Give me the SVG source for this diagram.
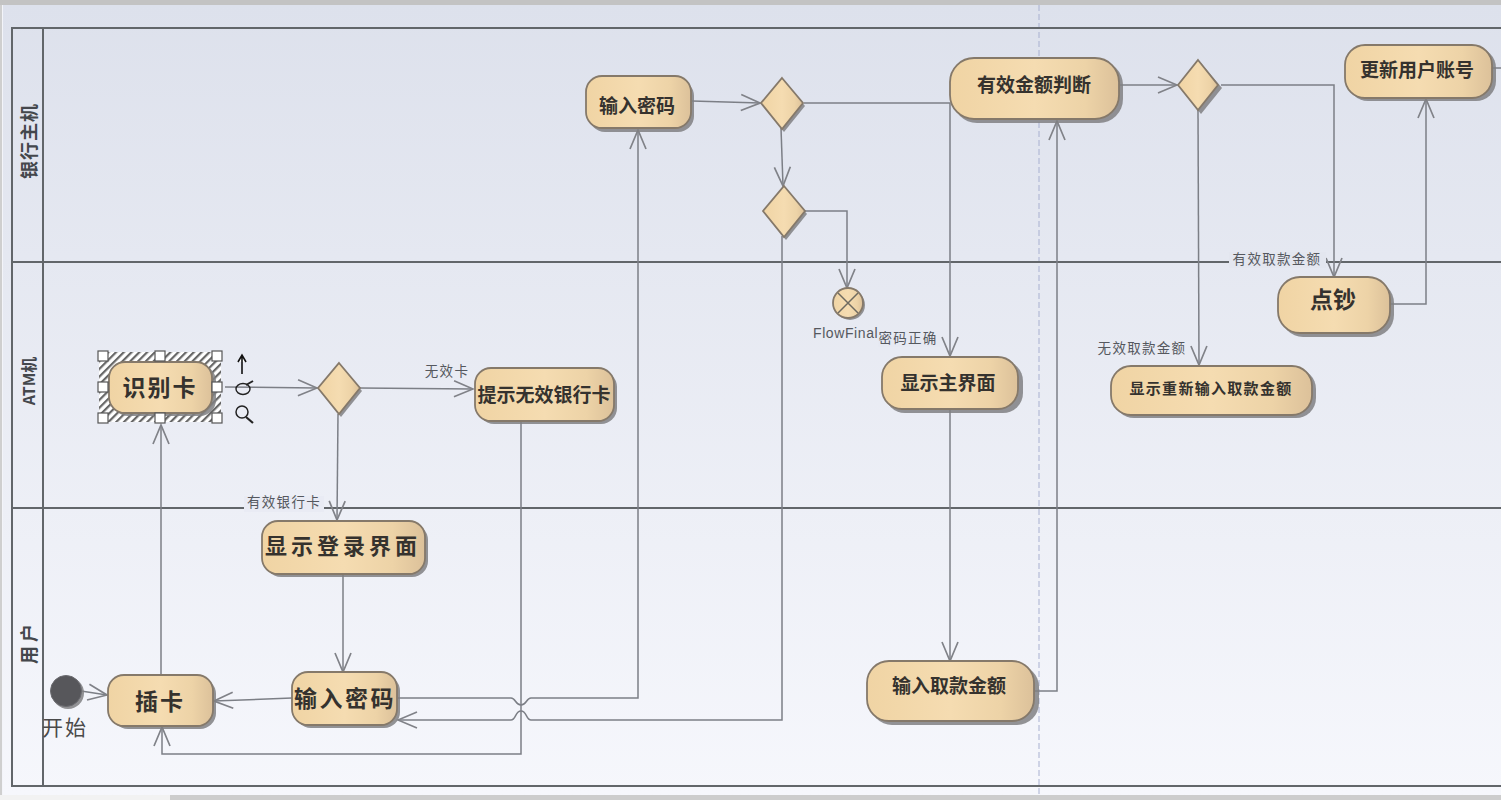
<svg xmlns="http://www.w3.org/2000/svg" width="1501" height="800" viewBox="0 0 1501 800">
<defs>
<linearGradient id="bg" x1="0" y1="0" x2="0" y2="1"><stop offset="0" stop-color="#dde1ec"/><stop offset="1" stop-color="#f6f7fc"/></linearGradient>
<linearGradient id="nf" x1="0" y1="0" x2="1" y2="0"><stop offset="0" stop-color="#f0d4a4"/><stop offset="0.5" stop-color="#f5dcb1"/><stop offset="0.8" stop-color="#edd3a7"/><stop offset="1" stop-color="#dcc19a"/></linearGradient>
<pattern id="hatch" width="5.5" height="5.5" patternUnits="userSpaceOnUse" patternTransform="rotate(-45)"><rect width="5.5" height="5.5" fill="#fff"/><rect width="5.5" height="2.2" fill="#666"/></pattern>
<marker id="arr" viewBox="-21 -10 23 20" refX="0" refY="0" markerWidth="23" markerHeight="20" markerUnits="userSpaceOnUse" orient="auto"><path d="M-19 -8 L0 0 L-19 8" fill="none" stroke="#808288" stroke-width="1.7"/></marker>
</defs>
<style>
.lane{fill:none;stroke:#62666a;stroke-width:2}
.c{fill:none;stroke:#7c7f86;stroke-width:1.5}
.a{marker-end:url(#arr)}
.n{fill:url(#nf);stroke:#85796a;stroke-width:1.8}
.s{fill:#808082;opacity:.85}
text{font-family:"Noto Sans CJK SC","Liberation Sans",sans-serif;text-anchor:middle}
.t{font-weight:700;fill:#35322e}
.l{font-size:13.5px;fill:#55585e;letter-spacing:1.3px}
.lt{font-size:18px;font-weight:700;fill:#44474c;letter-spacing:1px}
.h{fill:#fff;stroke:#555;stroke-width:1.2}
</style>
<rect width="1501" height="800" fill="#f3f4f9"/>
<rect x="3" y="5" width="1498" height="790" fill="url(#bg)"/>
<rect width="1501" height="5" fill="#c3c3c3"/>
<rect y="795" width="1501" height="5" fill="#f2f2f2"/>
<rect x="170" y="795" width="1331" height="5" fill="#cdcdcd"/>
<rect x="0" y="5" width="2" height="790" fill="#cfcfcf"/>
<line x1="1039" y1="5" x2="1039" y2="795" stroke="#a8b0d0" stroke-width="1" stroke-dasharray="6 3"/>
<g id="lanes">
<path class="lane" d="M1501 28H12V786H1501M43 28V786M12 262H1501M12 508H1501"/>
<text class="lt" transform="translate(36 141) rotate(-90)">银行主机</text>
<text class="lt" style="font-size:16px;letter-spacing:0" transform="translate(35 381) rotate(-90)">ATM机</text>
<text class="lt" style="letter-spacing:4px" transform="translate(36 642) rotate(-90)">用户</text>
</g>
<g id="connectors">
<path class="c a" d="M81 691L107 695"/>
<path class="c a" d="M161 675V425"/>
<path class="c a" d="M225 387L317 388"/>
<path class="c a" d="M360 388L473 389"/>
<path class="c a" d="M338 414L337 520"/>
<path class="c a" d="M343 574V672"/>
<path class="c a" d="M292 698L214 701"/>
<path class="c a" d="M398 698H511C516 698 515 705 521 705C527 705 526 698 531 698H638V130"/>
<path class="c a" d="M782 236V720H531C526 720 527 711 521 711C515 711 516 720 511 720H398"/>
<path class="c a" d="M521 420V754H162V727"/>
<path class="c a" d="M692 101L760 103"/>
<path class="c a" d="M781 128L783 186"/>
<path class="c a" d="M804 211H847V288"/>
<path class="c a" d="M804 103H950V356"/>
<path class="c a" d="M950 409V661"/>
<path class="c a" d="M1034 691H1057V121"/>
<path class="c a" d="M1120 85L1177 85"/>
<path class="c a" d="M1221 85H1334V277"/>
<path class="c a" d="M1198 110L1199 365"/>
<path class="c a" d="M1390 304H1426V99"/>
<path class="c" d="M1492 68H1501"/>
</g>
<g id="labels">
<rect x="244" y="496" width="80" height="16" fill="#e9ebf4"/>
<text class="l" x="284" y="507">有效银行卡</text>
<text class="l" x="447" y="376">无效卡</text>
<rect x="1229" y="252" width="97" height="16" fill="#e3e6ef"/>
<text class="l" x="1277" y="264">有效取款金额</text>
<text class="l" x="1142" y="353">无效取款金额</text>
<text x="813" y="338" style="font-family:'Liberation Sans',sans-serif;font-size:14px;fill:#55585e;text-anchor:start;letter-spacing:.6px">FlowFinal</text>
<rect x="878" y="331" width="62" height="16" fill="#e6e9f2"/>
<text class="l" x="908" y="343">密码正确</text>
</g>
<g id="start"><circle class="s" cx="68" cy="693" r="16"/><circle cx="66" cy="691" r="15.5" fill="#57575b" stroke="#6b6b70"/><text x="65" y="735" font-size="21" fill="#4a4a4a" style="letter-spacing:2px">开始</text></g>
<g id="n-identify">
<rect x="99" y="352" width="122" height="70" fill="url(#hatch)"/>
<rect class="s" x="112" y="365" width="104" height="51" rx="16"/>
<rect class="n" x="109" y="362" width="103" height="51" rx="16"/>
<text class="t" x="160" y="396" font-size="23" style="letter-spacing:2px">识别卡</text>
<rect class="h" x="98" y="351" width="10" height="10"/><rect class="h" x="155" y="351" width="10" height="10"/><rect class="h" x="212" y="351" width="10" height="10"/>
<rect class="h" x="98" y="382" width="10" height="10"/><rect class="h" x="212" y="382" width="10" height="10"/>
<rect class="h" x="98" y="413" width="10" height="10"/><rect class="h" x="155" y="413" width="10" height="10"/><rect class="h" x="212" y="413" width="10" height="10"/>
<path d="M242 374V356M238 362L242 355L246 362" fill="#fff" stroke="#111" stroke-width="1.6"/>
<ellipse cx="243" cy="389" rx="7" ry="5.5" fill="none" stroke="#222" stroke-width="1.4"/><path d="M246 385L253 381" stroke="#222" stroke-width="2"/>
<circle cx="242" cy="412" r="6" fill="none" stroke="#222" stroke-width="1.5"/><path d="M246 417L253 423" stroke="#222" stroke-width="2.2"/>
</g>
<g id="d1"><path class="s" d="M341 366L362 391L341 417L320 391Z"/><path class="n" d="M339 363L360 388L339 414L318 388Z"/></g>
<g id="n-invalid"><rect class="s" x="478" y="371" width="139" height="53" rx="16"/><rect class="n" x="475" y="368" width="139" height="53" rx="16"/><text class="t" x="544" y="402" font-size="19">提示无效银行卡</text></g>
<g id="n-login"><rect class="s" x="265" y="524" width="163" height="53" rx="16"/><rect class="n" x="262" y="521" width="163" height="53" rx="16"/><text class="t" x="343" y="554" font-size="22" style="letter-spacing:4px">显示登录界面</text></g>
<g id="n-insert"><rect class="s" x="112" y="678" width="104" height="51" rx="16"/><rect class="n" x="108" y="675" width="105" height="51" rx="16"/><text class="t" x="160" y="710" font-size="23" style="letter-spacing:2px">插卡</text></g>
<g id="n-pin-u"><rect class="s" x="295" y="675" width="105" height="53" rx="16"/><rect class="n" x="292" y="672" width="105" height="53" rx="16"/><text class="t" x="345" y="707" font-size="23" style="letter-spacing:2.5px">输入密码</text></g>
<g id="n-pin-b"><rect class="s" x="589" y="80" width="105" height="52" rx="16"/><rect class="n" x="586" y="76" width="105" height="52" rx="16"/><text class="t" x="637" y="113" font-size="19">输入密码</text></g>
<g id="d2"><path class="s" d="M784 81L805 106L784 132L763 106Z"/><path class="n" d="M782 78L803 103L782 129L761 103Z"/></g>
<g id="d3"><path class="s" d="M786 189L807 214L786 240L765 214Z"/><path class="n" d="M784 186L805 211L784 237L763 211Z"/></g>
<g id="n-final"><circle class="s" cx="850" cy="305" r="15"/><circle class="n" cx="848" cy="303" r="15"/><path d="M838 293L858 313M858 293L838 313" stroke="#6e6a60" stroke-width="1.5"/></g>
<g id="n-check"><rect class="s" x="953" y="61" width="170" height="62" rx="24"/><rect class="n" x="950" y="58" width="169" height="61" rx="24"/><text class="t" x="1034" y="92" font-size="19">有效金额判断</text></g>
<g id="d4"><path class="s" d="M1201 63L1222 88L1201 114L1180 88Z"/><path class="n" d="M1198 60L1218 85L1198 110L1178 85Z"/></g>
<g id="n-update"><rect class="s" x="1348" y="48" width="148" height="53" rx="20"/><rect class="n" x="1345" y="45" width="147" height="53" rx="20"/><text class="t" x="1417" y="77" font-size="19">更新用户账号</text></g>
<g id="n-count"><rect class="s" x="1281" y="281" width="113" height="56" rx="22"/><rect class="n" x="1278" y="277" width="112" height="56" rx="22"/><text class="t" x="1333" y="308" font-size="23">点钞</text></g>
<g id="n-retry"><rect class="s" x="1114" y="369" width="202" height="49" rx="20"/><rect class="n" x="1111" y="366" width="201" height="49" rx="20"/><text class="t" x="1211" y="394" font-size="15" style="letter-spacing:1.3px">显示重新输入取款金额</text></g>
<g id="n-main"><rect class="s" x="885" y="361" width="138" height="52" rx="20"/><rect class="n" x="882" y="357" width="136" height="52" rx="20"/><text class="t" x="948" y="390" font-size="19">显示主界面</text></g>
<g id="n-amount"><rect class="s" x="870" y="665" width="169" height="60" rx="22"/><rect class="n" x="867" y="661" width="167" height="60" rx="22"/><text class="t" x="949" y="693" font-size="19">输入取款金额</text></g>
</svg>
